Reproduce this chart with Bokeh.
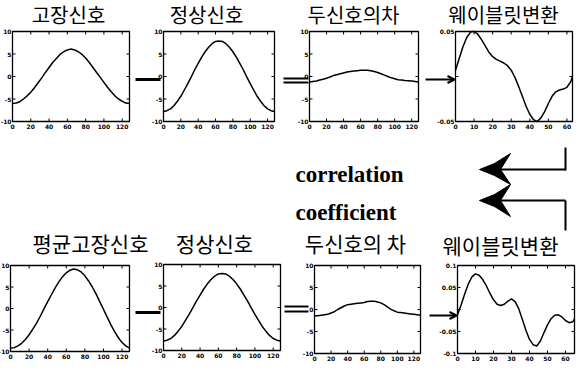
import math
from bokeh.plotting import figure
from bokeh.models import Range1d, Arrow, OpenHead
from bokeh.core.properties import value
from bokeh.embed import file_html
from bokeh.resources import INLINE

# ---------------- data ----------------
t = [0, 4, 8, 12, 16, 20, 24, 28, 32, 36, 40, 44, 48, 52, 56, 60, 64,
     68, 72, 76, 80, 84, 88, 92, 96, 100, 104, 108, 112, 116, 120, 124, 128]
fault_sig = [-6.0, -5.9, -5.6, -5.0, -4.3, -3.5, -2.5, -1.4, -0.3, 0.9, 2.0, 3.1, 4.0, 4.9, 5.5, 5.9, 6.1,
             5.9, 5.5, 4.9, 4.1, 3.1, 2.0, 0.9, -0.2, -1.3, -2.4, -3.4, -4.3, -5.0, -5.5, -5.9, -6.0]
normal_sig = [-7.8, -7.6, -7.2, -6.5, -5.5, -4.4, -3.0, -1.6, -0.1, 1.5, 2.9, 4.3, 5.5, 6.5, 7.3, 7.8, 7.9,
              7.8, 7.3, 6.5, 5.5, 4.3, 2.9, 1.5, -0.1, -1.6, -3.0, -4.4, -5.5, -6.5, -7.2, -7.6, -7.8]
diff_top = [-1.2, -1.1, -1.0, -0.8, -0.6, -0.4, -0.1, 0.2, 0.4, 0.6, 0.8, 1.0, 1.1, 1.2, 1.3, 1.4, 1.4,
            1.4, 1.3, 1.1, 0.9, 0.6, 0.3, 0.0, -0.3, -0.5, -0.7, -0.8, -0.9, -0.95, -1.0, -1.1, -1.2]
avg_fault_sig = [-9.2, -9.1, -8.7, -8.1, -7.2, -6.1, -4.8, -3.4, -1.8, -0.1, 1.6, 3.2, 4.8, 6.2, 7.4, 8.3, 8.9,
                 9.2, 9.0, 8.5, 7.6, 6.4, 5.0, 3.4, 1.6, -0.2, -2.0, -3.8, -5.4, -6.8, -7.9, -8.7, -9.2]
diff_bot = [-1.4, -1.4, -1.3, -1.2, -1.1, -0.8, -0.5, 0.0, 0.4, 0.8, 1.1, 1.2, 1.3, 1.4, 1.5, 1.6, 1.8,
            1.9, 1.9, 1.7, 1.5, 1.1, 0.6, 0.1, -0.3, -0.6, -0.7, -0.8, -0.9, -1.0, -1.1, -1.2, -1.3]

wav_top_x = [0, 2, 4, 6, 8, 9, 10, 12, 14, 16, 18, 20, 22, 24, 26, 28, 30, 32, 34, 36, 38, 40,
             42, 44, 46, 48, 50, 52, 54, 56, 58, 60, 62, 63]
wav_top_y = [0.007, 0.020, 0.033, 0.043, 0.049, 0.050, 0.050, 0.047, 0.041, 0.034, 0.027, 0.022,
             0.019, 0.017, 0.015, 0.012, 0.007, -0.001, -0.011, -0.022, -0.033, -0.042, -0.048,
             -0.050, -0.046, -0.039, -0.030, -0.022, -0.017, -0.015, -0.014, -0.012, -0.006, 0.000]
wav_bot_x = [0, 2, 4, 6, 8, 10, 12, 14, 16, 18, 20, 22, 24, 26, 28, 30, 32, 34, 36, 38, 40, 42,
             44, 46, 48, 50, 52, 54, 56, 58, 60, 62, 64, 65]
wav_bot_y = [-0.012, 0.010, 0.035, 0.058, 0.074, 0.081, 0.078, 0.068, 0.054, 0.037, 0.022, 0.012,
             0.009, 0.012, 0.019, 0.024, 0.018, 0.002, -0.022, -0.047, -0.068, -0.080, -0.083,
             -0.072, -0.053, -0.035, -0.021, -0.013, -0.012, -0.017, -0.025, -0.030, -0.028, -0.022]

sig_xticks = [0, 20, 40, 60, 80, 100, 120]
sig_xlabels = ["0", "20", "40", "60", "80", "100", "120"]
sig_yticks = [-10, -5, 0, 5, 10]
sig_ylabels = ["-10", "-5", "0", "5", "10"]
wav_xticks = [0, 10, 20, 30, 40, 50, 60]
wav_xlabels = ["0", "10", "20", "30", "40", "50", "60"]
wav_top_yticks = [-0.05, 0, 0.05]
wav_top_ylabels = ["-0.05", "", "0.05"]
wav_bot_yticks = [-0.1, -0.05, 0, 0.05, 0.1]
wav_bot_ylabels = ["-0.1", "-0.05", "", "0.05", "0.1"]

titles_top = ["고장신호", "정상신호", "두신호의차", "웨이블릿변환"]
titles_bot = ["평균고장신호", "정상신호", "두신호의 차", "웨이블릿변환"]
corr_words = ["correlation", "coefficient"]

# ---------------- canvas ----------------
W, H = 579, 366
p = figure(width=W, height=H, x_range=Range1d(8, 8 + W), y_range=Range1d(8 + H, 8),
           output_backend="svg", toolbar_location=None, min_border=0,
           x_axis_location=None, y_axis_location=None)
p.grid.visible = False
p.outline_line_color = None
p.background_fill_color = "white"
p.border_fill_color = "white"

TICK_FONT = value("DejaVu Sans")


def panel(box, xr, yr, xs, ys, xticks, xlabels, yticks, ylabels):
    l, r, tp, b = box
    sp = p.subplot(x_source=Range1d(*xr), y_source=Range1d(*yr),
                   x_target=Range1d(l, r), y_target=Range1d(b, tp))
    sp.quad(left=[xr[0]], right=[xr[1]], bottom=[yr[0]], top=[yr[1]],
            fill_color=None, line_color="black", line_width=1.3)
    # inward ticks (3 px)
    dy = 3 * (yr[1] - yr[0]) / (b - tp)
    dx = 3 * (xr[1] - xr[0]) / (r - l)
    n = len(xticks)
    sp.segment(x0=xticks, y0=[yr[0]] * n, x1=xticks, y1=[yr[0] + dy] * n, line_color="black", line_width=1)
    sp.segment(x0=xticks, y0=[yr[1]] * n, x1=xticks, y1=[yr[1] - dy] * n, line_color="black", line_width=1)
    m = len(yticks)
    sp.segment(x0=[xr[0]] * m, y0=yticks, x1=[xr[0] + dx] * m, y1=yticks, line_color="black", line_width=1)
    sp.segment(x0=[xr[1]] * m, y0=yticks, x1=[xr[1] - dx] * m, y1=yticks, line_color="black", line_width=1)
    sp.text(x=xticks, y=[yr[0]] * n, text=xlabels, text_align="center", text_baseline="top",
            y_offset=2, text_font=TICK_FONT, text_font_size="6px", text_font_style="bold",
            text_color="black")
    sp.text(x=[xr[0]] * m, y=yticks, text=ylabels, text_align="right", text_baseline="middle",
            x_offset=-1, text_font=TICK_FONT, text_font_size="6px", text_font_style="bold",
            text_color="black")
    sp.line(x=xs, y=ys, line_color="black", line_width=1.5)


sig_x = (0, 128)
sig_y = (-10, 10)
panel((20, 137, 39, 129), sig_x, sig_y, t, fault_sig, sig_xticks, sig_xlabels, sig_yticks, sig_ylabels)
panel((171, 282, 39, 129), sig_x, sig_y, t, normal_sig, sig_xticks, sig_xlabels, sig_yticks, sig_ylabels)
panel((317, 426, 39, 129), sig_x, sig_y, t, diff_top, sig_xticks, sig_xlabels, sig_yticks, sig_ylabels)
panel((463, 580, 39, 129), (0, 63), (-0.05, 0.05), wav_top_x, wav_top_y,
      wav_xticks, wav_xlabels, wav_top_yticks, wav_top_ylabels)

panel((18, 137, 273, 359), sig_x, sig_y, t, avg_fault_sig, sig_xticks, sig_xlabels, sig_yticks, sig_ylabels)
panel((171, 288, 272, 358), sig_x, sig_y, t, normal_sig, sig_xticks, sig_xlabels, sig_yticks, sig_ylabels)
panel((322, 428, 273, 361), sig_x, sig_y, t, diff_bot, sig_xticks, sig_xlabels, sig_yticks, sig_ylabels)
panel((465, 582, 273, 361), (0, 65), (-0.1, 0.1), wav_bot_x, wav_bot_y,
      wav_xticks, wav_xlabels, wav_bot_yticks, wav_bot_ylabels)

# ---------------- titles ----------------
KR = value("Noto Sans CJK KR")
p.text(x=[76, 214, 361, 511], y=[22, 22, 22, 22], text=titles_top, text_align="center",
       text_baseline="middle", text_font=KR, text_font_size="20px", text_color="black")
p.text(x=[98, 222, 363, 508], y=[250, 250, 250, 252], text=titles_bot, text_align="center",
       text_baseline="middle", text_font=KR, text_font_size="21px", text_color="black")

# correlation coefficient
p.text(x=[303, 303], y=[182, 220], text=corr_words, text_align="left", text_baseline="alphabetic",
       text_font=value("Liberation Serif"), text_font_size="23px", text_font_style="bold",
       text_color="black")

# ---------------- connectors ----------------
# single thick lines
p.segment(x0=[143, 143], y0=[87, 320], x1=[168, 168], y1=[87, 320], line_color="black", line_width=3)
# double lines
p.segment(x0=[291, 291, 292, 292], y0=[86, 90, 314, 319], x1=[316, 316, 316, 316], y1=[86, 90, 314, 319],
          line_color="black", line_width=2)
# arrows into wavelet panels
for xs0, xe, yy in [(433, 462, 87), (437, 464, 323)]:
    p.add_layout(Arrow(end=OpenHead(size=7, line_width=2, line_color="black"),
                       x_start=xs0, y_start=yy, x_end=xe, y_end=yy,
                       line_width=1.8, line_color="black"))

# big feedback arrows
p.patches(xs=[[487, 502, 518, 508, 518, 502], [487, 502, 518, 508, 518, 502]],
          ys=[[177, 171, 161, 177, 192, 183], [208, 202, 192, 208, 224, 214]],
          fill_color="black", line_color="black", line_width=1)
p.segment(x0=[508, 508, 573, 573], y0=[177, 208, 155, 208], x1=[573, 573, 573, 573], y1=[177, 208, 178, 238],
          line_color="black", line_width=2)

open("out.html", "w").write(file_html(p, INLINE))
